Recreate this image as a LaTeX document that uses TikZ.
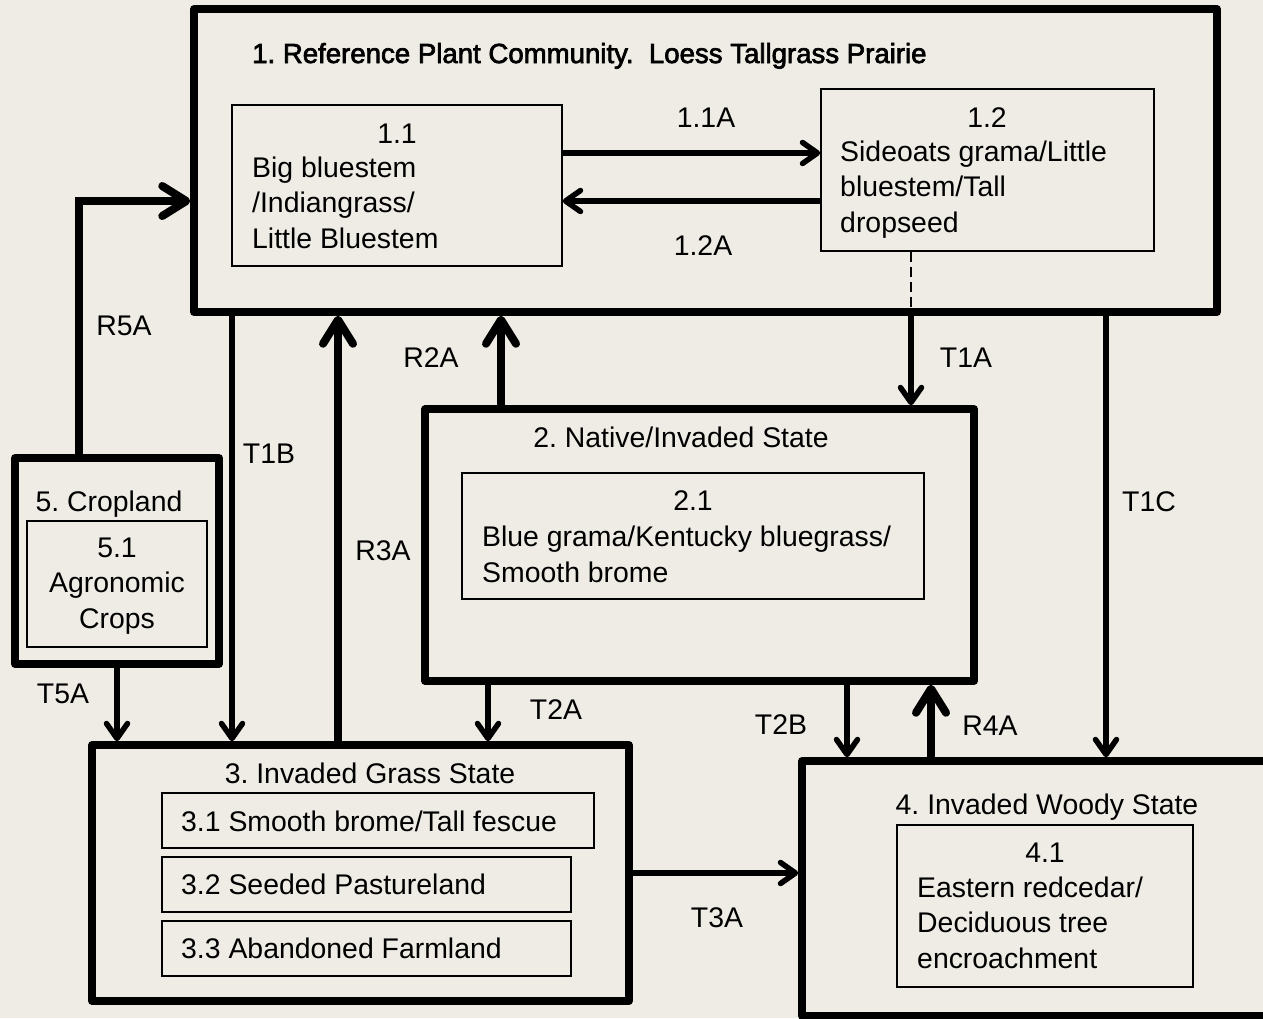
\documentclass[tikz,border=0pt]{standalone}
\usepackage{fontspec}
\setmainfont{Liberation Sans}
\newfontfamily\titlefont{Liberation Sans}[FakeBold=2.5]
\usetikzlibrary{arrows.meta}
\definecolor{bg}{RGB}{238,236,228}
\frenchspacing
\begin{document}
\begin{tikzpicture}[x=1pt,y=-1pt,
  statebox/.style={draw, line width=7.5pt, line join=round, inner sep=0pt},
  phasebox/.style={draw, line width=1.5pt, inner sep=0pt},
  txt/.style={inner sep=0pt, font=\frenchspacing\fontsize{28.4}{35.5}\selectfont},
  tarrow/.style={line width=5.5pt, -{Straight Barb[length=15pt,width=21pt,round]}},
  rarrow/.style={line width=8pt, -{Straight Barb[length=24pt,width=30pt,round]}},
]
\useasboundingbox (0,0) rectangle (1263,1018);
\fill[bg] (0,0) rectangle (1263,1018);
\clip (0,0) rectangle (1263,1018);

% state boxes
\node[statebox, minimum width=1023pt, minimum height=303pt] (b1) at (705.5,160.5) {};
\node[statebox, minimum width=549pt, minimum height=272pt] (b2) at (699.5,545) {};
\node[statebox, minimum width=537pt, minimum height=256pt] (b3) at (360.5,873) {};
\node[statebox, minimum width=478pt, minimum height=255pt] (b4) at (1041,888.5) {};
\node[statebox, minimum width=204pt, minimum height=206pt] (b5) at (117,561) {};

% community phase boxes
\node[phasebox, minimum width=330pt, minimum height=161pt] (b11) at (397,185.5) {};
\node[phasebox, minimum width=333pt, minimum height=162pt] (b12) at (987.5,170) {};
\node[phasebox, minimum width=462pt, minimum height=126pt] (b21) at (693,536) {};
\node[phasebox, minimum width=432pt, minimum height=55pt] (b31) at (378,820.5) {};
\node[phasebox, minimum width=409pt, minimum height=55pt] (b32) at (366.5,884.5) {};
\node[phasebox, minimum width=409pt, minimum height=55pt] (b33) at (366.5,948.5) {};
\node[phasebox, minimum width=296pt, minimum height=162pt] (b41) at (1045,906) {};
\node[phasebox, minimum width=180pt, minimum height=126pt] (b51) at (117,584) {};

% texts (multi-line nodes: base = baseline of last line)
\node[txt, font=\titlefont\frenchspacing\fontsize{27.6}{33}\selectfont, anchor=base west] (t1) at (252,63) {1. Reference Plant Community.\ \ Loess Tallgrass Prairie};
\node[txt, anchor=base] (n11) at (397,143) {1.1};
\node[txt, anchor=base west, align=left] (s11) at (252,248) {Big bluestem\\/Indiangrass/\\Little Bluestem};
\node[txt, anchor=base] (n12) at (987,127) {1.2};
\node[txt, anchor=base west, align=left] (s12) at (840,232) {Sideoats grama/Little\\bluestem/Tall\\dropseed};

\node[txt, anchor=base] (t2) at (681,447) {2. Native/Invaded State};
\node[txt, anchor=base] (n21) at (693,510) {2.1};
\node[txt, anchor=base west, align=left] (s21) at (482,582) {Blue grama/Kentucky bluegrass/\\Smooth brome};

\node[txt, anchor=base] (t3) at (370,783) {3. Invaded Grass State};
\node[txt, anchor=base west] (s31) at (181,831) {3.1 Smooth brome/Tall fescue};
\node[txt, anchor=base west] (s32) at (181,894) {3.2 Seeded Pastureland};
\node[txt, anchor=base west] (s33) at (181,958) {3.3 Abandoned Farmland};

\node[txt, anchor=base] (t4) at (1047,814) {4. Invaded Woody State};
\node[txt, anchor=base] (n41) at (1045,862) {4.1};
\node[txt, anchor=base west, align=left] (s41) at (917,968) {Eastern redcedar/\\Deciduous tree\\encroachment};

\node[txt, anchor=base] (t5) at (109,511) {5. Cropland};
\node[txt, anchor=base, align=center] (s51) at (117,628) {5.1\\Agronomic\\Crops};

% transition / restoration arrows
\draw[tarrow] (b11.east |- 0,153) -- (b12.west |- 0,153);
\draw[tarrow] (b12.west |- 0,201) -- (b11.east |- 0,201);
\draw[line width=2.5pt, dash pattern=on 10pt off 5pt] (b12.south -| 911,0) -- (b1.south -| 911,0);
\draw[tarrow] (b1.south -| 911,0) -- (b2.north -| 911,0);
\draw[tarrow] (b1.south -| 232,0) -- (b3.north -| 232,0);
\draw[tarrow] (b1.south -| 1106,0) -- (b4.north -| 1106,0);
\draw[tarrow] (b5.south -| 117,0) -- (b3.north -| 117,0);
\draw[tarrow] (b2.south -| 488,0) -- (b3.north -| 488,0);
\draw[tarrow] (b2.south -| 847,0) -- (b4.north -| 847,0);
\draw[tarrow] (b3.east |- 0,873) -- (b4.west |- 0,873);
\draw[rarrow] (b5.north -| 79,0) |- (b1.west |- 0,201);
\draw[rarrow] (b3.north -| 338,0) -- (b1.south -| 338,0);
\draw[rarrow] (b2.north -| 501,0) -- (b1.south -| 501,0);
\draw[rarrow] (b4.north -| 931,0) -- (b2.south -| 931,0);

% arrow labels
\node[txt, anchor=base] (l11a) at (706,127) {1.1A};
\node[txt, anchor=base] (l12a) at (703,255) {1.2A};
\node[txt, anchor=base] (lt1a) at (966,367) {T1A};
\node[txt, anchor=base] (lr5a) at (124,335) {R5A};
\node[txt, anchor=base] (lt1b) at (269,463) {T1B};
\node[txt, anchor=base] (lr2a) at (431,367) {R2A};
\node[txt, anchor=base] (lr3a) at (383,560) {R3A};
\node[txt, anchor=base] (lt1c) at (1149,511) {T1C};
\node[txt, anchor=base] (lt5a) at (63,703) {T5A};
\node[txt, anchor=base] (lt2a) at (556,719) {T2A};
\node[txt, anchor=base] (lt2b) at (781,734) {T2B};
\node[txt, anchor=base] (lr4a) at (990,735) {R4A};
\node[txt, anchor=base] (lt3a) at (717,927) {T3A};
\end{tikzpicture}
\end{document}
